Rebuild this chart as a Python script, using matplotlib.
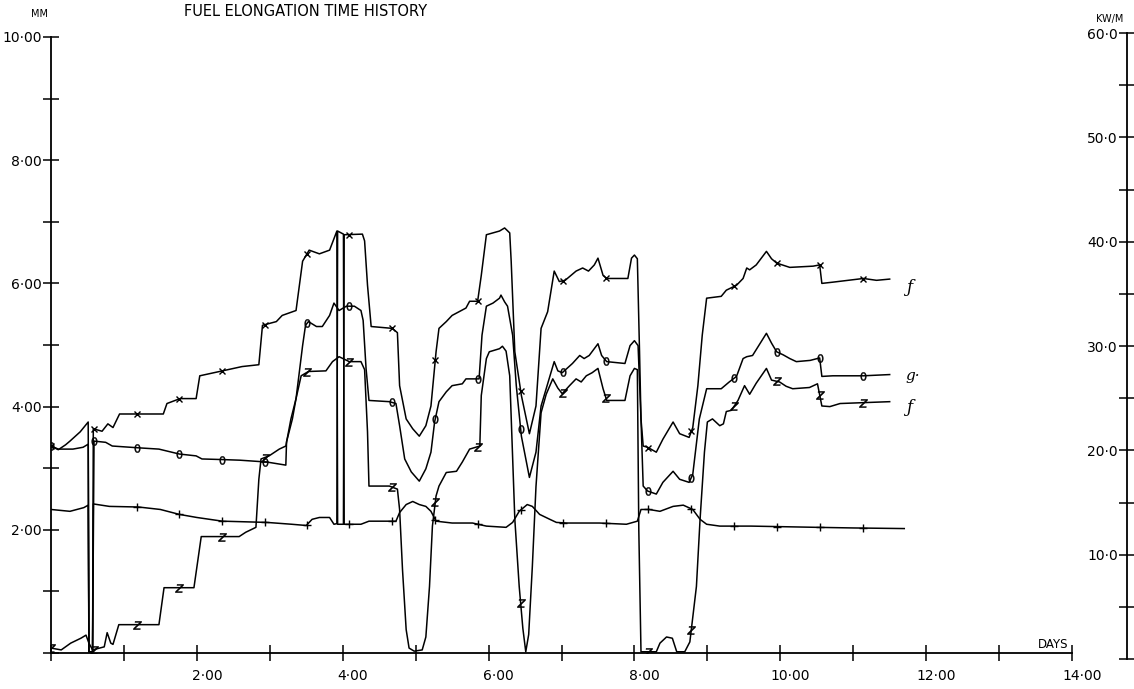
import numpy as np
import matplotlib
matplotlib.use("Agg")
import matplotlib.pyplot as plt
from matplotlib import transforms

# ---------------- data (days, mm) ----------------
x_days = [0.00, 0.10, 0.20, 0.26, 0.40, 0.51, 0.52, 0.57, 0.58, 0.70,
          0.78, 0.85, 0.94, 1.54, 1.59, 1.77, 1.99, 2.04, 2.35, 2.62,
          2.85, 2.90, 3.09, 3.17, 3.36, 3.45, 3.54, 3.68, 3.82, 3.92,
          3.93, 4.01, 4.02, 4.27, 4.30, 4.34, 4.39, 4.68, 4.75, 4.78,
          4.87, 4.96, 5.05, 5.14, 5.21, 5.28, 5.32, 5.42, 5.50, 5.69,
          5.74, 5.85, 5.90, 5.97, 6.15, 6.22, 6.29, 6.31, 6.36, 6.45,
          6.56, 6.65, 6.72, 6.81, 6.90, 6.97, 7.05, 7.20, 7.29, 7.37,
          7.45, 7.50, 7.57, 7.62, 7.91, 7.96, 8.00, 8.04, 8.07, 8.09,
          8.12, 8.18, 8.30, 8.39, 8.53, 8.62, 8.75, 8.80, 8.87, 8.93,
          8.99, 9.19, 9.26, 9.40, 9.49, 9.54, 9.58, 9.67, 9.81, 9.88,
          9.95, 10.13, 10.45, 10.54, 10.57, 10.72, 11.14, 11.32, 11.50]
x_mm = [3.36, 3.30, 3.38, 3.44, 3.59, 3.75, 0.02, 0.02, 3.64, 3.60,
        3.72, 3.66, 3.88, 3.88, 4.05, 4.13, 4.13, 4.50, 4.58, 4.65,
        4.68, 5.32, 5.38, 5.48, 5.56, 6.36, 6.54, 6.48, 6.54, 6.85,
        2.09, 2.09, 6.79, 6.80, 6.69, 5.97, 5.30, 5.27, 5.20, 4.34,
        3.80, 3.64, 3.52, 3.69, 4.01, 4.89, 5.27, 5.38, 5.48, 5.60,
        5.71, 5.71, 6.13, 6.79, 6.85, 6.90, 6.82, 6.36, 4.89, 4.18,
        3.56, 4.01, 5.27, 5.54, 6.20, 6.03, 6.05, 6.20, 6.25, 6.20,
        6.30, 6.41, 6.13, 6.08, 6.08, 6.41, 6.46, 6.40, 4.89, 3.80,
        3.36, 3.34, 3.26, 3.47, 3.75, 3.56, 3.50, 3.66, 4.34, 5.16,
        5.76, 5.79, 5.89, 5.97, 6.08, 6.25, 6.22, 6.30, 6.52, 6.40,
        6.33, 6.26, 6.28, 6.30, 6.00, 6.02, 6.08, 6.05, 6.07]

o_days = [0.00, 0.10, 0.30, 0.44, 0.51, 0.52, 0.57, 0.59, 0.75, 0.84,
          1.21, 1.48, 1.76, 1.99, 2.07, 2.35, 2.59, 2.96, 3.22, 3.23,
          3.31, 3.36, 3.45, 3.49, 3.53, 3.64, 3.72, 3.82, 3.88, 3.95,
          4.05, 4.16, 4.25, 4.28, 4.32, 4.36, 4.64, 4.73, 4.78, 4.85,
          4.94, 5.05, 5.14, 5.21, 5.26, 5.32, 5.42, 5.50, 5.64, 5.69,
          5.87, 5.91, 5.97, 6.06, 6.15, 6.17, 6.22, 6.26, 6.33, 6.38,
          6.45, 6.56, 6.65, 6.72, 6.90, 6.95, 7.01, 7.15, 7.25, 7.31,
          7.38, 7.50, 7.55, 7.62, 7.87, 7.94, 8.00, 8.05, 8.09, 8.12,
          8.18, 8.30, 8.39, 8.53, 8.62, 8.75, 8.80, 8.89, 8.99, 9.19,
          9.30, 9.40, 9.49, 9.54, 9.62, 9.81, 9.88, 9.95, 10.04, 10.13,
          10.22, 10.41, 10.54, 10.57, 10.72, 11.14, 11.50]
o_mm = [3.36, 3.31, 3.31, 3.34, 3.39, 0.02, 0.02, 3.44, 3.42, 3.36,
        3.33, 3.31, 3.23, 3.20, 3.15, 3.14, 3.13, 3.10, 3.05, 3.43,
        3.80, 4.13, 4.99, 5.32, 5.38, 5.30, 5.30, 5.48, 5.68, 5.56,
        5.63, 5.63, 5.56, 5.40, 4.62, 4.10, 4.08, 4.05, 3.69, 3.15,
        2.94, 2.79, 2.99, 3.26, 3.75, 4.08, 4.24, 4.34, 4.37, 4.45,
        4.45, 5.16, 5.63, 5.68, 5.76, 5.81, 5.70, 5.63, 5.16, 4.34,
        3.52, 2.85, 3.26, 4.01, 4.73, 4.58, 4.55, 4.70, 4.83, 4.78,
        4.83, 5.02, 4.83, 4.73, 4.70, 4.99, 5.07, 4.99, 3.80, 2.71,
        2.63, 2.58, 2.77, 2.95, 2.82, 2.77, 2.90, 3.80, 4.29, 4.29,
        4.40, 4.49, 4.78, 4.81, 4.83, 5.19, 5.03, 4.89, 4.84, 4.78,
        4.73, 4.75, 4.79, 4.49, 4.50, 4.50, 4.52]

z_days = [0.00, 0.14, 0.27, 0.41, 0.48, 0.52, 0.57, 0.73, 0.77, 0.82,
          0.85, 0.93, 1.48, 1.55, 1.96, 2.06, 2.58, 2.67, 2.81, 2.85,
          2.88, 2.99, 3.13, 3.22, 3.29, 3.36, 3.43, 3.53, 3.77, 3.86,
          3.95, 4.09, 4.25, 4.30, 4.34, 4.36, 4.64, 4.75, 4.78, 4.82,
          4.87, 4.91, 4.98, 5.09, 5.14, 5.19, 5.23, 5.28, 5.32, 5.42,
          5.56, 5.64, 5.74, 5.88, 5.90, 5.97, 6.01, 6.15, 6.19, 6.24,
          6.29, 6.36, 6.42, 6.47, 6.51, 6.55, 6.60, 6.65, 6.72, 6.79,
          6.88, 6.95, 7.01, 7.11, 7.20, 7.27, 7.34, 7.42, 7.50, 7.57,
          7.62, 7.87, 7.94, 8.00, 8.04, 8.06, 8.09, 8.30, 8.35, 8.44,
          8.52, 8.58, 8.69, 8.76, 8.85, 8.90, 8.96, 9.00, 9.07, 9.17,
          9.22, 9.26, 9.33, 9.42, 9.51, 9.58, 9.67, 9.81, 9.88, 9.99,
          10.08, 10.17, 10.40, 10.51, 10.57, 10.68, 10.82, 11.50]
z_mm = [0.08, 0.05, 0.16, 0.24, 0.29, 0.16, 0.05, 0.10, 0.33, 0.16,
        0.14, 0.46, 0.46, 1.06, 1.06, 1.89, 1.89, 1.96, 2.04, 2.82,
        3.15, 3.20, 3.31, 3.36, 3.80, 4.13, 4.50, 4.57, 4.58, 4.73,
        4.81, 4.73, 4.73, 4.60, 3.59, 2.71, 2.71, 2.66, 2.33, 1.35,
        0.38, 0.08, 0.03, 0.05, 0.26, 1.08, 2.06, 2.55, 2.71, 2.93,
        2.95, 3.10, 3.31, 3.36, 4.18, 4.78, 4.89, 4.94, 4.98, 4.90,
        4.50, 2.17, 1.08, 0.40, 0.02, 0.30, 1.40, 2.70, 3.90, 4.20,
        4.45, 4.30, 4.21, 4.34, 4.45, 4.40, 4.50, 4.55, 4.62, 4.29,
        4.10, 4.10, 4.50, 4.62, 4.60, 2.00, 0.02, 0.02, 0.16, 0.26,
        0.24, 0.02, 0.02, 0.18, 1.08, 2.17, 3.26, 3.75, 3.80, 3.69,
        3.72, 3.92, 3.94, 4.10, 4.34, 4.20, 4.38, 4.62, 4.43, 4.40,
        4.33, 4.29, 4.31, 4.37, 4.01, 4.00, 4.05, 4.08]

p_days = [0.00, 0.26, 0.45, 0.51, 0.52, 0.57, 0.58, 0.80, 1.20, 1.50,
          1.76, 2.00, 2.35, 2.96, 3.30, 3.50, 3.58, 3.68, 3.82, 3.88,
          3.92, 3.93, 4.01, 4.02, 4.25, 4.36, 4.73, 4.78, 4.87, 4.96,
          5.05, 5.14, 5.21, 5.28, 5.50, 5.78, 5.97, 6.24, 6.33, 6.42,
          6.53, 6.60, 6.70, 6.84, 6.93, 7.07, 7.52, 7.89, 8.04, 8.09,
          8.20, 8.35, 8.53, 8.67, 8.80, 8.90, 8.99, 9.17, 9.60, 10.50,
          11.00, 11.70]
p_mm = [2.33, 2.30, 2.36, 2.40, 0.02, 0.02, 2.42, 2.38, 2.37, 2.33,
        2.25, 2.20, 2.14, 2.12, 2.09, 2.07, 2.17, 2.20, 2.20, 2.09,
        2.10, 6.85, 6.80, 2.09, 2.09, 2.14, 2.14, 2.28, 2.41, 2.46,
        2.41, 2.38, 2.30, 2.14, 2.11, 2.11, 2.06, 2.04, 2.12, 2.30,
        2.41, 2.38, 2.25, 2.17, 2.12, 2.11, 2.11, 2.09, 2.14, 2.33,
        2.33, 2.30, 2.38, 2.40, 2.33, 2.17, 2.09, 2.06, 2.06, 2.04,
        2.03, 2.02]

marker_days = [0.00, 0.59, 1.18, 1.76, 2.35, 2.93, 3.51, 4.09, 4.68, 5.27,
               5.85, 6.44, 7.02, 7.61, 8.19, 8.78, 9.37, 9.95, 10.54, 11.13]

x_ticks = list(range(0, 15))
x_ticklabels = ["", "", "2·00", "", "4·00", "", "6·00", "", "8·00", "",
                "10·00", "", "12·00", "", "14·00"]
y_ticks = list(range(0, 11))
y_ticklabels = ["", "", "2·00", "", "4·00", "", "6·00", "", "8·00", "", "10·00"]
r_ticks = list(range(0, 65, 5))
r_ticklabels = ["", "", "10·0", "", "20·0", "", "30·0", "", "40·0", "",
                "50·0", "", "60·0"]

# ---------------- figure ----------------
W, H = 1134, 689
fig = plt.figure(figsize=(W / 100, H / 100), dpi=100)
fig.patch.set_facecolor("white")

x0, x14 = 51, 1072
y0, y10 = 653, 37
ax = fig.add_axes([x0 / W, 1 - y0 / H, (x14 - x0) / W, (y0 - y10) / H])
ax.set_xlim(0, 14)
ax.set_ylim(0, 10)
ax.patch.set_alpha(0)
for s in ("top", "right"):
    ax.spines[s].set_visible(False)
for s in ("left", "bottom"):
    ax.spines[s].set_linewidth(1.3)

lw = 1.1
ax.plot(x_days, x_mm, color="black", lw=lw)
ax.plot(o_days, o_mm, color="black", lw=lw)
ax.plot(z_days, z_mm, color="black", lw=lw)
ax.plot(p_days, p_mm, color="black", lw=lw)

md = np.array(marker_days)
ax.plot(md, np.interp(md, x_days, x_mm), ls="none", marker="x", ms=5, mew=1.0, color="black")
ax.plot(md, np.interp(md, o_days, o_mm), ls="none", marker="$0$", ms=6, mew=0.3, color="black")
ax.plot(md, np.interp(md, z_days, z_mm), ls="none", marker="$z$", ms=6, mew=0.3, color="black")
ax.plot(md[2:], np.interp(md[2:], p_days, p_mm), ls="none", marker="+", ms=6, mew=1.0, color="black")

tfs = 10
ax.set_xticks(x_ticks)
ax.set_xticklabels(x_ticklabels, fontsize=tfs)
ax.set_yticks(y_ticks)
ax.set_yticklabels(y_ticklabels, fontsize=tfs)
ax.tick_params(axis="both", direction="inout", length=11, width=1.1, color="black")
ax.tick_params(axis="x", pad=6)
ax.tick_params(axis="y", pad=1)
off = transforms.ScaledTranslation(10 / 100, 0, fig.dpi_scale_trans)
for lab in ax.get_xticklabels():
    lab.set_transform(lab.get_transform() + off)

# right-hand KW/M axis
xr = 1127
r0, r60 = 659, 33
axr = fig.add_axes([xr / W, 1 - r0 / H, 0.0001, (r0 - r60) / H])
axr.set_ylim(0, 60)
axr.patch.set_alpha(0)
for s in ("top", "right", "bottom"):
    axr.spines[s].set_visible(False)
axr.spines["left"].set_linewidth(1.3)
axr.set_xticks([])
axr.set_yticks(r_ticks)
axr.set_yticklabels(r_ticklabels, fontsize=tfs)
axr.tick_params(axis="y", direction="inout", length=11, width=1.1, pad=1)

# texts
fig.text(306 / W, 1 - 11 / H, "FUEL ELONGATION TIME HISTORY", ha="center", va="center", fontsize=10.5)
fig.text(39 / W, 1 - 14 / H, "MM", ha="center", va="center", fontsize=7)
fig.text(1110 / W, 1 - 19 / H, "KW/M", ha="center", va="center", fontsize=7)
fig.text(1053 / W, 1 - 645 / H, "DAYS", ha="center", va="center", fontsize=8.5)

ax.text(11.72, 5.93, "ƒ", fontsize=12, fontstyle="italic", family="DejaVu Serif", va="center")
ax.text(11.72, 4.50, "g·", fontsize=11, fontstyle="italic", family="DejaVu Serif", va="center")
ax.text(11.72, 3.98, "ƒ", fontsize=12, fontstyle="italic", family="DejaVu Serif", va="center")

fig.savefig("out.png", dpi=100, facecolor="white")
